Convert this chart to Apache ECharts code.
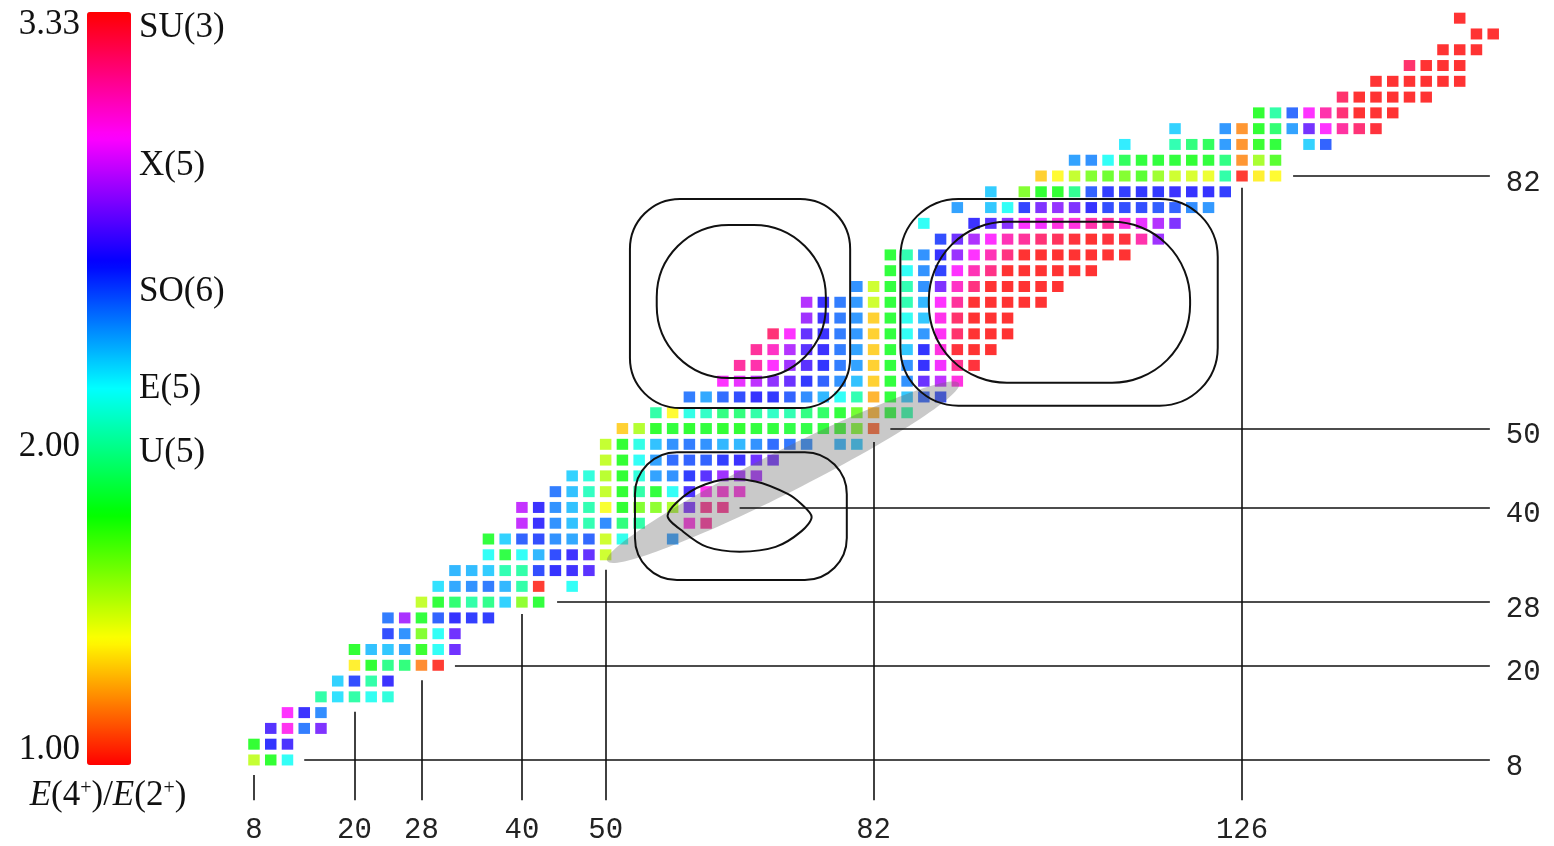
<!DOCTYPE html>
<html>
<head>
<meta charset="utf-8">
<script src="https://cdn.jsdelivr.net/npm/echarts@6/dist/echarts.min.js"></script>
<style>
  html, body { margin: 0; background: #fff; }
  #main { width: 1554px; height: 846px; }
</style>
</head>
<body>
<div id="main"></div>
<script>
// even-even nuclei, one row per proton number Z
// rowFirstN = first neutron number of the row, then one ratio every 2 neutrons (null = no data)
const rowZ = [8, 10, 12, 14, 16, 18, 20, 22, 24, 26, 28, 30, 32, 34, 36, 38, 40, 42, 44, 46, 48, 50,
  52, 54, 56, 58, 60, 62, 64, 66, 68, 70, 72, 74, 76, 78, 80, 82, 84, 86, 88, 90, 92, 94, 96, 98, 100, 102];
const rowFirstN = [8, 8, 10, 12, 16, 18, 20, 20, 24, 24, 28, 30, 32, 36, 36, 40, 40, 44, 46, 50, 50, 52,
  56, 60, 64, 66, 68, 70, 74, 74, 80, 84, 84, 90, 88, 92, 96, 102, 106, 112, 118, 128, 138, 142, 146, 150, 154, 152];
const rowRatios = [
  [1.5, 1.78, 2.15],
  [1.78, 2.55, 2.6],
  [2.62, 2.97, 2.41, 2.7],
  [2.94, 2.57, 2.38],
  [2.0, 2.22, 2.0, 2.14, 2.1],
  [2.25, 2.5, 2.0, 2.57],
  [1.36, 1.78, 1.95, 1.92, 1.17, 1.02],
  [1.78, 2.28, 2.27, 2.33, 1.76, 2.15, 2.67],
  [2.5, 2.37, 1.62, 2.15, 2.67],
  [2.41, 2.78, 1.8, 2.46, 2.56, 2.53, 2.53],
  [1.5, 1.8, 1.9, 2.0, 1.95, 2.25, 1.6, 1.8],
  [2.22, 2.33, 2.37, 2.41, 2.3, 2.0, 1.02, null, 2.15],
  [2.3, 2.29, 2.26, 2.02, 2.0, 2.5, 2.56, 2.58, 2.63],
  [2.15, 1.82, 2.15, 2.3, 2.5, 2.58, 2.65, 1.48],
  [1.8, 2.25, 2.46, 2.5, 2.37, 2.33, 2.45, 1.48, 2.13, null, null, 2.35],
  [2.83, 2.57, 2.37, 2.28, 2.02, 2.38, 1.92, 2.0, null, null, 3.0, 3.13],
  [2.83, 2.57, 2.37, 2.28, 2.02, 1.4, 1.78, 1.62, 1.6, 1.54, 2.7, 3.15, 3.15],
  [2.41, 2.28, 2.05, 1.5, 1.78, 2.0, 1.8, 2.15, 2.6, 2.97, 3.02, 3.0],
  [2.25, 2.1, 1.52, 1.78, 2.1, 2.34, 2.37, 2.53, 2.63, 2.76, 2.78, 2.78],
  [1.5, 1.78, 2.15, 2.34, 2.44, 2.46, 2.46, 2.53, 2.57, 2.67, 2.68],
  [1.5, 1.78, 2.12, 2.28, 2.37, 2.41, 2.37, 2.3, 2.3, 2.37, 2.44, 2.42, 2.38, null, 2.3, 2.27],
  [1.3, 1.53, 1.78, 1.8, 1.78, 1.8, 1.78, 1.78, 1.8, 1.8, 1.82, 1.82, 1.8, 1.75, 1.62, 1.1],
  [2.0, 1.38, 2.12, 2.06, 1.93, 1.92, 2.0, 2.06, 2.02, 1.93, 1.88, 1.8, 1.65, 1.25, 1.8, 2.0],
  [2.41, 2.33, 2.44, 2.5, 2.56, 2.54, 2.46, 2.38, 2.3, 2.15, 2.02, 1.25, 1.8, 2.27, 2.46, 2.5],
  [2.94, 2.9, 2.82, 2.73, 2.66, 2.54, 2.46, 2.37, 2.28, 1.3, 1.8, 2.37, 2.66, 2.82, 3.0],
  [3.12, 3.1, 2.94, 2.76, 2.63, 2.55, 2.41, 2.34, 1.3, 1.8, 2.37, 2.56, 2.92, 3.15, 3.31],
  [3.13, 3.05, 2.8, 2.63, 2.57, 2.41, 2.34, 1.3, 1.8, 2.27, 2.55, 3.0, 3.31, 3.33, 3.33],
  [3.2, 2.94, 2.65, 2.57, 2.41, 2.36, 1.3, 1.8, 2.15, 2.36, 2.96, 3.22, 3.33, 3.33, 3.33],
  [2.76, 2.57, 2.41, 2.36, 1.3, 1.8, 2.14, 2.27, 2.98, 3.22, 3.33, 3.33, 3.33],
  [2.8, 2.57, 2.41, 2.36, 1.48, 1.8, 2.02, 2.3, 2.94, 3.13, 3.33, 3.33, 3.33, 3.33, 3.33],
  [2.37, 1.48, 1.8, 2.02, 2.37, 2.7, 3.05, 3.18, 3.33, 3.33, 3.33, 3.33, 3.33],
  [1.8, 2.15, 2.37, 2.52, 2.94, 3.08, 3.17, 3.33, 3.33, 3.33, 3.33, 3.33, 3.33],
  [1.8, 2.02, 2.37, 2.56, 2.75, 2.94, 3.08, 3.18, 3.33, 3.33, 3.33, 3.33, 3.33, 3.33, 3.33],
  [2.5, 2.67, 2.79, 2.94, 3.08, 3.13, 3.2, 3.25, 3.31, 3.33, 3.31, 3.31, 3.1, 2.76],
  [2.15, null, null, 2.57, 2.63, 2.72, 2.94, 2.92, 3.0, 3.0, 3.1, 3.13, 3.0, 2.9, 2.8, 2.7],
  [2.34, null, 2.27, 2.15, 2.52, 2.7, 2.74, 2.7, 2.56, 2.5, 2.5, 2.5, 2.47, 2.46, 2.38, 2.36],
  [2.26, null, 1.62, 1.78, 1.78, 1.96, 2.46, 2.53, 2.53, 2.54, 2.54, 2.57, 2.56, 2.56, 2.53],
  [1.3, 1.38, 1.5, 1.62, 1.66, 1.62, 1.7, 1.57, 1.48, 1.46, 1.42, 2.0, 1.02, 1.36, 1.38],
  [2.34, 2.37, 2.15, 1.86, 1.8, 1.8, 1.8, 1.78, 1.8, 1.93, 1.19, 1.55, 1.7],
  [2.2, null, null, 2.02, 1.92, 1.86, 2.35, 1.19, 1.76, 1.8, null, 2.25, 2.46],
  [2.25, null, null, 2.36, 1.19, 1.78, 1.9, 2.34, 2.68, 2.94, 3.12, 3.2, 3.31],
  [1.78, 2.0, 2.44, 2.94, 3.1, 3.2, 3.33, 3.33, 3.33],
  [3.22, 3.33, 3.33, 3.33, 3.33, 3.33],
  [3.33, 3.33, 3.33, 3.33, 3.33, 3.33],
  [3.22, 3.33, 3.33, 3.33],
  [3.33, 3.33, 3.33],
  [3.33, 3.33],
  [3.33]
];

// magic numbers and where their guide lines start
const magicN = [8, 20, 28, 40, 50, 82, 126];
const magicNTopZ = [6.1, 14.1, 18.1, 26.5, 32.1, 48.3, 80.5];
const magicZ = [8, 20, 28, 40, 50, 82];
const magicZStartN = [14, 32, 44.2, 66, 84, 132.1];
const lineEndZ = 2.9;
const lineEndN = 155.6;

// colour scale
const ratioMin = 1.0;
const ratioMax = 3.33;
const scaleTicks = [3.33, 2.0, 1.0];
const modelNames = ['SU(3)', 'X(5)', 'SO(6)', 'E(5)', 'U(5)'];
const modelRatios = [3.33, 2.88, 2.49, 2.19, 1.99];

// contours (N, Z)
const boxes = [
  { n0: 52.9, n1: 79.2, z0: 52.6, z1: 79.1, r: 50 },
  { n0: 56.1, n1: 76.3, z0: 56.4, z1: 75.8, r: 72 },
  { n0: 85.2, n1: 123.1, z0: 52.9, z1: 79.1, r: 58 },
  { n0: 88.6, n1: 119.8, z0: 55.8, z1: 76.2, r: 78 },
  { n0: 53.5, n1: 78.8, z0: 30.8, z1: 47.0, r: 42 }
];
const lens = [
  [57.4, 39.0], [60.1, 42.0], [63.9, 43.5], [67.9, 43.3], [71.8, 41.7], [73.4, 40.4],
  [74.6, 38.8], [73.4, 37.0], [70.3, 35.0], [66.0, 34.4], [62.1, 35.0], [59.3, 36.9]
];
const bandEnds = [[50.2, 33.2], [92.2, 55.7]];

const nuclei = [];
rowZ.forEach((z, i) => {
  rowRatios[i].forEach((r, k) => {
    if (r !== null) nuclei.push([rowFirstN[i] + 2 * k, z, r]);
  });
});

const monoLabel = { fontFamily: 'Liberation Mono', fontSize: 29, color: '#222' };
const guideLines = [];
magicN.forEach((n, i) => {
  guideLines.push([
    { coord: [n, magicNTopZ[i]], name: String(n), label: { distance: 16 } },
    { coord: [n, lineEndZ] }
  ]);
});
magicZ.forEach((z, i) => {
  guideLines.push([
    { coord: [magicZStartN[i], z], name: String(z), label: { distance: 16, offset: [0, 7] } },
    { coord: [lineEndN, z] }
  ]);
});

var chartDom = document.getElementById('main');
var myChart = echarts.init(chartDom);
var option = {
  animation: false,
  backgroundColor: '#fff',
  grid: { left: 187, right: 27.3, top: 2.4, bottom: 22.9 },
  xAxis: { type: 'value', min: 0, max: 160, show: false },
  yAxis: { type: 'value', min: 0, max: 104, show: false },
  visualMap: {
    type: 'continuous',
    min: ratioMin,
    max: ratioMax,
    dimension: 2,
    seriesIndex: 0,
    calculable: false,
    left: 87,
    top: 12,
    padding: 0,
    itemWidth: 44,
    itemHeight: 753,
    inRange: {
      color: ['#ff0000', '#ffff00', '#00ff00', '#00ffff', '#0000ff', '#ff00ff', '#ff0000']
    }
  },
  series: [
    {
      type: 'scatter',
      symbol: 'rect',
      symbolSize: [11.5, 11],
      data: nuclei,
      z: 2,
      silent: true
    },
    {
      type: 'scatter',
      data: [],
      z: 4,
      markLine: {
        silent: true,
        symbol: 'none',
        animation: false,
        lineStyle: { color: '#111', width: 1.6, type: 'solid' },
        label: Object.assign({ show: true, position: 'end', formatter: '{b}' }, monoLabel),
        data: guideLines
      }
    }
  ]
};
myChart.setOption(option);

// annotations drawn over the grid
const px = p => myChart.convertToPixel({ gridIndex: 0 }, p);
const graphics = [];

const b0 = px(bandEnds[0]);
const b1 = px(bandEnds[1]);
graphics.push({
  type: 'ellipse',
  silent: true,
  z: 3,
  x: (b0[0] + b1[0]) / 2,
  y: (b0[1] + b1[1]) / 2,
  rotation: Math.atan2(b0[1] - b1[1], b1[0] - b0[0]),
  shape: { cx: 0, cy: 0, rx: Math.hypot(b1[0] - b0[0], b1[1] - b0[1]) / 2, ry: 21 },
  style: { fill: 'rgba(105,105,105,0.36)' }
});

boxes.forEach(b => {
  const tl = px([b.n0, b.z1]);
  const br = px([b.n1, b.z0]);
  graphics.push({
    type: 'rect',
    silent: true,
    z: 6,
    shape: { x: tl[0], y: tl[1], width: br[0] - tl[0], height: br[1] - tl[1], r: b.r },
    style: { fill: 'none', stroke: '#111', lineWidth: 2 }
  });
});
graphics.push({
  type: 'polygon',
  silent: true,
  z: 6,
  shape: { points: lens.map(px), smooth: 0.3 },
  style: { fill: 'none', stroke: '#111', lineWidth: 2 }
});

// colour bar texts
const barTop = 12;
const barH = 753;
const yOfRatio = v => barTop + (ratioMax - v) / (ratioMax - ratioMin) * barH;
const serif = '"Liberation Serif", "Times New Roman", serif';
scaleTicks.forEach(v => {
  graphics.push({
    type: 'text',
    x: 80,
    y: Math.min(Math.max(yOfRatio(v) + 5, 25), 750),
    style: { text: v.toFixed(2), fontFamily: serif, fontSize: 35, fill: '#111', align: 'right', verticalAlign: 'middle' }
  });
});
modelNames.forEach((name, i) => {
  graphics.push({
    type: 'text',
    x: 139,
    y: Math.min(Math.max(yOfRatio(modelRatios[i]) + 8, 28), 750),
    style: { text: name, fontFamily: serif, fontSize: 35, fill: '#111', align: 'left', verticalAlign: 'middle' }
  });
});
graphics.push({
  type: 'text',
  x: 108,
  y: 796,
  style: {
    text: '{i|E}(4{s|+})/{i|E}(2{s|+})',
    fontFamily: serif,
    fontSize: 35,
    fill: '#111',
    align: 'center',
    verticalAlign: 'middle',
    rich: {
      i: { fontFamily: serif, fontSize: 35, fontStyle: 'italic' },
      s: { fontFamily: serif, fontSize: 20, verticalAlign: 'top', padding: [0, 0, 14, 0] }
    }
  }
});

myChart.setOption({ graphic: graphics });
</script>
</body>
</html>
